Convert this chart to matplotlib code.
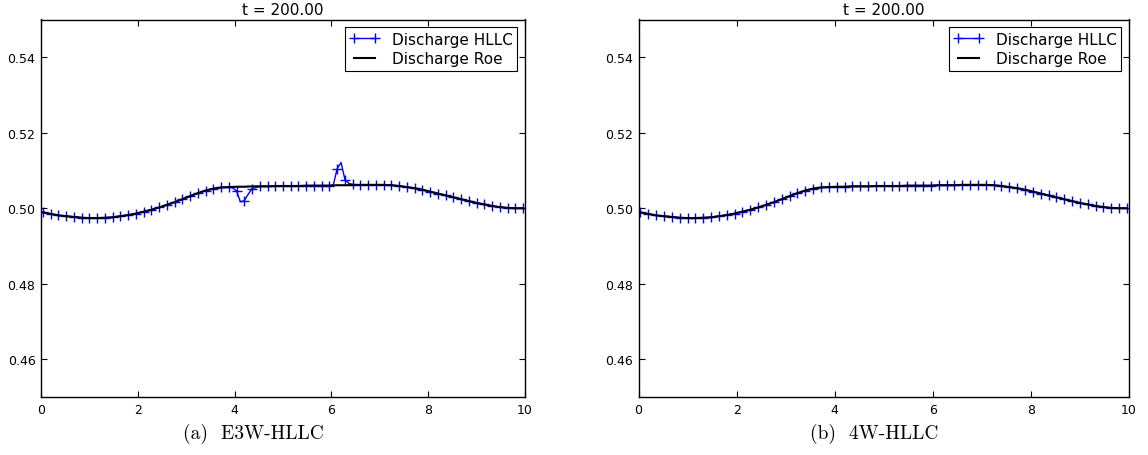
import numpy as np
import matplotlib
matplotlib.use("Agg")
import matplotlib.pyplot as plt

# ---- data ----
x_nodes = np.round(0.04 + 0.16 * np.arange(63), 2)

roe_discharge = [
    0.4989, 0.4985, 0.4981, 0.4979, 0.4977, 0.4975, 0.4974, 0.4974, 0.4975, 0.4976,
    0.4979, 0.4982, 0.4986, 0.4991, 0.4996, 0.5002, 0.5009, 0.5016, 0.5024, 0.5032,
    0.5040, 0.5047, 0.5052, 0.5055, 0.5056, 0.5057, 0.5057, 0.5058, 0.5058, 0.5058,
    0.5059, 0.5059, 0.5059, 0.5059, 0.5060, 0.5060, 0.5060, 0.5060, 0.5061, 0.5061,
    0.5061, 0.5062, 0.5062, 0.5062, 0.5062, 0.5061, 0.5059, 0.5056, 0.5053, 0.5049,
    0.5044, 0.5039, 0.5034, 0.5029, 0.5024, 0.5019, 0.5014, 0.5010, 0.5006, 0.5003,
    0.5001, 0.5000, 0.5000,
]

# E3W-HLLC: differs from Roe near x=4.1 (dip) and x=6.2 (spike)
e3w_overrides = {25: 0.5046, 26: 0.5020, 27: 0.5052, 38: 0.5105, 39: 0.5076, 40: 0.5063}
# intermediate (unmarked) cells of the E3W-HLLC solution
e3w_extra_x = [3.96, 4.12, 4.28, 6.04, 6.20, 6.36]
e3w_extra_y = [0.5054, 0.5017, 0.5037, 0.5062, 0.5121, 0.5066]

# 4W-HLLC coincides with the Roe solution
w4_discharge = list(roe_discharge)

titles = ["t = 200.00", "t = 200.00"]
captions = ["(a)  E3W-HLLC", "(b)  4W-HLLC"]
x_ticks = [0, 2, 4, 6, 8, 10]
y_ticks = [0.46, 0.48, 0.50, 0.52, 0.54]

# ---- build E3W series ----
e3w_marked = [e3w_overrides.get(i, v) for i, v in enumerate(roe_discharge)]
pts = [(x, y, True) for x, y in zip(x_nodes, e3w_marked)]
pts += [(x, y, False) for x, y in zip(e3w_extra_x, e3w_extra_y)]
pts.sort(key=lambda p: p[0])
e3w_x = [p[0] for p in pts]
e3w_y = [p[1] for p in pts]
e3w_mark = [p[2] for p in pts]

fig = plt.figure(figsize=(11.48, 4.56), dpi=100)
W, H = 1148, 456
axes_px = [(41, 20.5, 484, 377.5), (638.5, 20.5, 490.5, 377.5)]
series = [
    (e3w_x, e3w_y, e3w_mark),
    (list(x_nodes), w4_discharge, [True] * len(x_nodes)),
]
cap_x = [253, 874]

for i, (l, t, w, h) in enumerate(axes_px):
    ax = fig.add_axes([l / W, 1 - (t + h) / H, w / W, h / H])
    hx, hy, hm = series[i]
    ax.plot(hx, hy, color="blue", lw=1.0, marker="+", markersize=6.5,
            markeredgewidth=1.0, markevery=hm, label="Discharge HLLC")
    ax.plot(x_nodes, roe_discharge, color="black", lw=1.5, label="Discharge Roe")
    ax.set_xlim(0, 10)
    ax.set_ylim(0.45, 0.55)
    ax.set_xticks(x_ticks)
    ax.set_yticks(y_ticks)
    ax.set_yticklabels([f"{v:.2f}" for v in y_ticks])
    ax.tick_params(direction="in", top=True, right=True, length=4, width=0.8,
                   labelsize=9, pad=4)
    for s in ax.spines.values():
        s.set_linewidth(1.0)
        s.set_color("black")
    ax.set_title(titles[i], fontsize=11, pad=4)
    leg = ax.legend(loc="upper right", fontsize=11, numpoints=2, fancybox=False,
                    framealpha=1, edgecolor="black", borderaxespad=0.5,
                    handlelength=2.0, borderpad=0.3, labelspacing=0.3)
    leg.get_frame().set_linewidth(0.8)
    fig.text(cap_x[i] / W, 1 - 434 / H, captions[i], ha="center", va="center",
             fontsize=14, family="cmr10")

fig.savefig("out.png", dpi=100)
